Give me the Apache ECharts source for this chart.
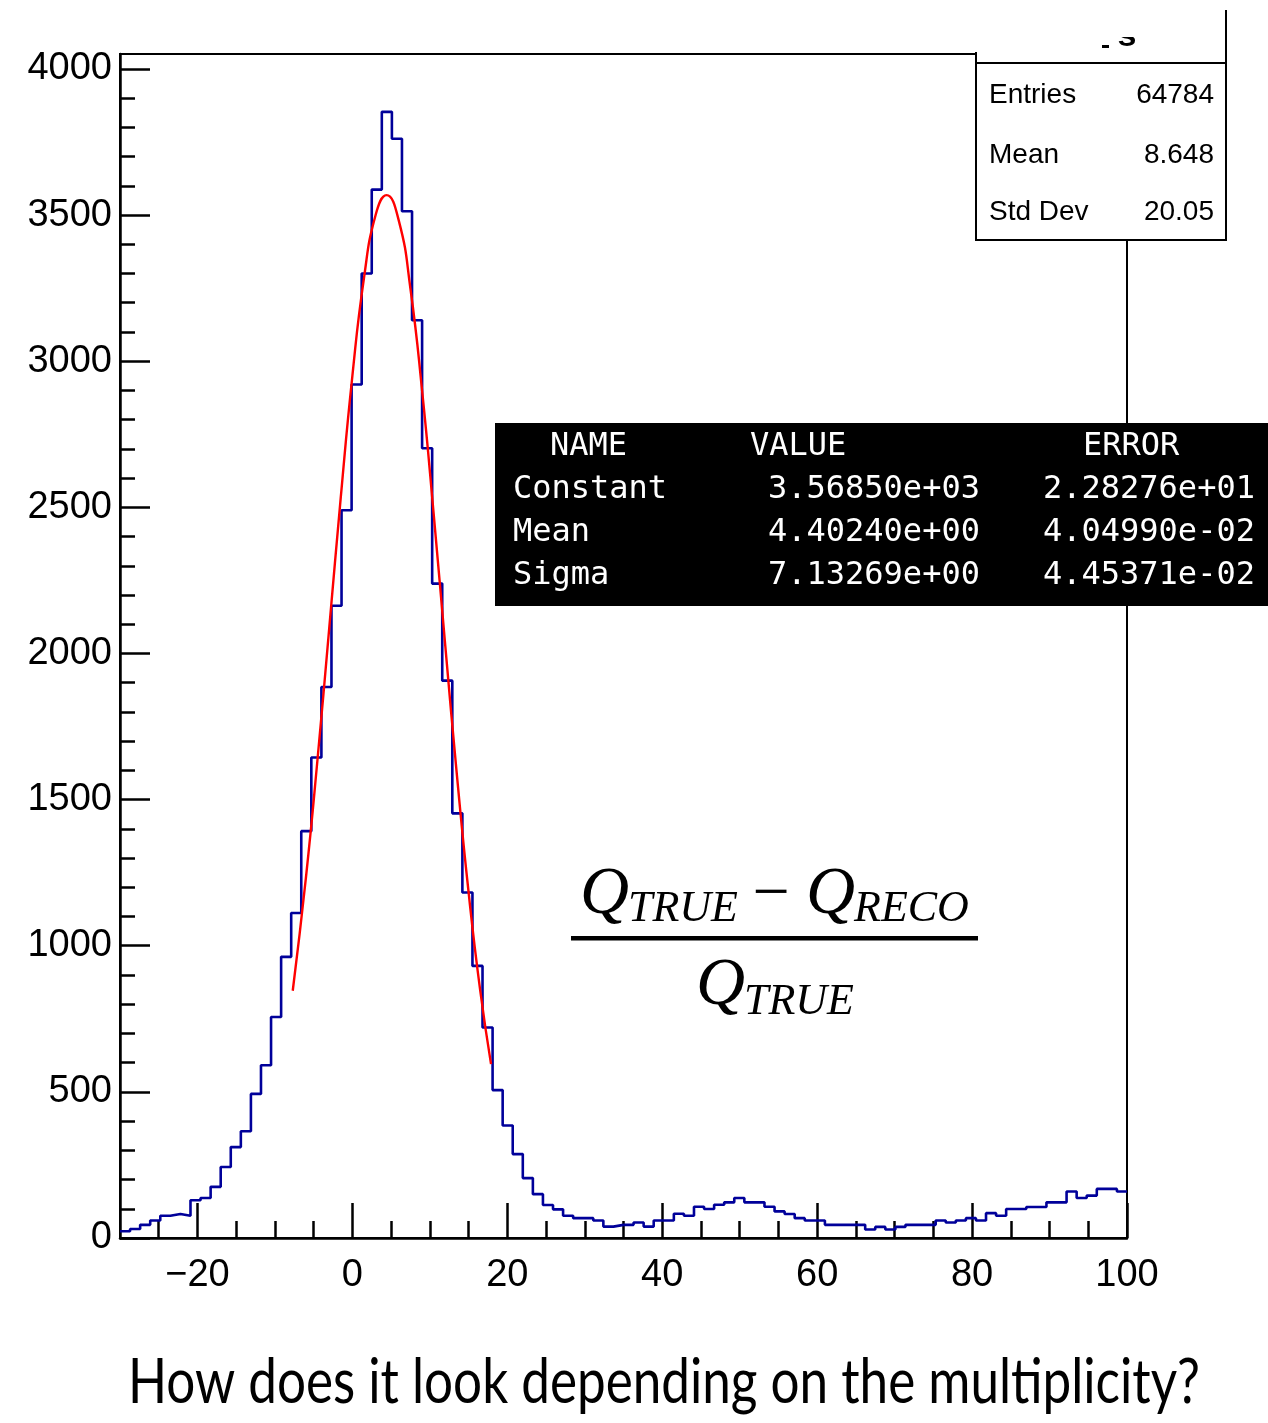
<!DOCTYPE html>
<html><head><meta charset="utf-8">
<script src="https://cdn.jsdelivr.net/npm/echarts@6/dist/echarts.min.js"></script>
<style>html,body{margin:0;padding:0;background:#fff}#c{width:1268px;height:1423px}</style>
</head><body><div id="c"></div>
<script>
// ---- data ----
const binLow = -30, binWidth = 1.3;
const counts = [23,31,45,60,76,82,76,129,137,175,
  243,311,365,493,591,756,962,1112,1392,1644,
  1885,2163,2490,2920,3300,3587,3853,3761,3513,3140,
  2702,2239,1907,1453,1182,931,720,506,385,287,
  205,150,113,98,76,68,68,60,39,45,
  45,53,39,60,60,83,76,107,99,114,
  122,137,122,122,107,91,82,68,60,60,
  45,45,45,45,29,38,29,38,45,45,
  45,60,53,60,68,60,85,76,99,99,
  106,106,122,122,159,137,145,168,168,159];
const fitX = [-7.7,-6,-4.5,-3,-1.5,0,1.5,3,4.4,6,7.5,9,10.5,12,13.5,15,16.5,17.9];
const fitY = [846,1232,1638,2083,2534,2950,3285,3500,3568,3480,3247,2899,2476,2024,1582,1183,847,595];
const xMajorTicks = [-20,0,20,40,60,80,100];
const xMinorTicks = [-25,-15,-10,-5,5,10,15,25,30,35,45,50,55,65,70,75,85,90,95];
const yMajorTicks = [0,500,1000,1500,2000,2500,3000,3500,4000];
const yMinorTicks = [100,200,300,400,600,700,800,900,1100,1200,1300,1400,1600,1700,1800,1900,
  2100,2200,2300,2400,2600,2700,2800,2900,3100,3200,3300,3400,3600,3700,3800,3900];
const statNames = ['Entries','Mean','Std Dev'];
const statValues = ['64784','8.648','20.05'];
const fitHeader = ['NAME','VALUE','ERROR'];
const fitParams = ['Constant','Mean','Sigma'];
const fitValues = ['3.56850e+03','4.40240e+00','7.13269e+00'];
const fitErrors = ['2.28276e+01','4.04990e-02','4.45371e-02'];
const bottomText = 'How does it look depending on the multiplicity?';

// ---- build ----
const histData = counts.map((v,i)=>[binLow + i*binWidth, v]);
histData.push([binLow + counts.length*binWidth, counts[counts.length-1]]);
const fitData = fitX.map((x,i)=>[x, fitY[i]]);

const G = {left:120, top:54, width:1007, height:1184};
const YMAX = 4051;
const sans = '"Liberation Sans", Arial, Helvetica, sans-serif';
const mono = '"DejaVu Sans Mono", monospace';
const serif = '"Liberation Serif", "Times New Roman", serif';

const mc = document.createElement('canvas').getContext('2d');
mc.font = '62px Lato';
const bw = mc.measureText(bottomText).width;
const bsx = 1072 / bw;

function T(x,y,text,opt){
  return Object.assign({type:'text', x:x, y:y, z:110, silent:true,
    style:Object.assign({text:text, fill:'#000', font:'28px '+sans,
      textAlign:'left', align:'left', textVerticalAlign:'middle', verticalAlign:'middle'}, opt||{})});
}
const graphics = [];
// title box remnant
graphics.push({type:'rect', z:100, shape:{x:976,y:0,width:250,height:240}, style:{fill:'#fff'}});
graphics.push(T(1127,37,'s',{font:'bold 34px '+sans, textAlign:'center', align:'center'}));
graphics.push({type:'rect', z:112, shape:{x:1095,y:0,width:70,height:37}, style:{fill:'#fff'}});
graphics.push({type:'rect', z:112, shape:{x:1102,y:45,width:7,height:3}, style:{fill:'#000'}});
graphics.push({type:'polyline', z:113, shape:{points:[[1226,10],[1226,240],[976,240],[976,52]]}, style:{stroke:'#000', lineWidth:2, fill:null}});
graphics.push({type:'line', z:113, shape:{x1:976,y1:63,x2:1226,y2:63}, style:{stroke:'#000', lineWidth:2}});
const statY = [95,155,212];
statNames.forEach((n,i)=>{
  graphics.push(T(989,statY[i],n));
  graphics.push(T(1214,statY[i],statValues[i],{textAlign:'right', align:'right'}));
});
// fit box
graphics.push({type:'rect', z:100, shape:{x:495,y:423,width:773,height:183}, style:{fill:'#000'}});
const hdrX = [550,750,1083];
fitHeader.forEach((h,i)=>graphics.push(T(hdrX[i],447,h,{fill:'#fff', font:'32px '+mono})));
const rowY = [490,533,576];
fitParams.forEach((p,i)=>{
  graphics.push(T(513,rowY[i],p,{fill:'#fff', font:'32px '+mono}));
  graphics.push(T(768,rowY[i],fitValues[i],{fill:'#fff', font:'32px '+mono}));
  graphics.push(T(1043,rowY[i],fitErrors[i],{fill:'#fff', font:'32px '+mono}));
});
// formula
const qF = 'italic 68px '+serif, sF = 'italic 44px '+serif;
graphics.push(T(580,895,'Q',{font:qF}));
graphics.push(T(628,909,'TRUE',{font:sF}));
graphics.push(T(771,896,'\u2212',{font:'66px '+serif, textAlign:'center', align:'center'}));
graphics.push(T(806,895,'Q',{font:qF}));
graphics.push(T(854,909,'RECO',{font:sF}));
graphics.push({type:'rect', z:110, shape:{x:571,y:936,width:407,height:4.5}, style:{fill:'#000'}});
graphics.push(T(696,986,'Q',{font:qF}));
graphics.push(T(744,1002,'TRUE',{font:sF}));
// bottom text
graphics.push({type:'text', x:664, y:1383, scaleX:bsx, z:110, silent:true,
  style:{text:bottomText, fill:'#000', font:'62px Lato', textAlign:'center', align:'center', textVerticalAlign:'middle', verticalAlign:'middle'}});

const axisTxt = {color:'#000', fontSize:38, fontFamily:sans};
const option = {
  backgroundColor:'#fff',
  animation:false,
  grid:Object.assign({show:true, borderColor:'#000', borderWidth:2, backgroundColor:'transparent', containLabel:false, outerBoundsMode:'none'}, G),
  xAxis:[
    {type:'value', position:'bottom', min:-30, max:100, splitLine:{show:false},
     axisLine:{onZero:false, lineStyle:{color:'#000', width:2.5}},
     axisTick:{inside:true, length:35, lineStyle:{color:'#000', width:2.5}, customValues:xMajorTicks},
     axisLabel:Object.assign({margin:19, customValues:xMajorTicks, formatter:v=>String(v).replace('-','\u2212')}, axisTxt)},
    {type:'value', position:'top', offset:-G.height, min:-30, max:100, splitLine:{show:false},
     axisLine:{show:false, onZero:false},
     axisTick:{inside:false, length:17, lineStyle:{color:'#000', width:2.5}, customValues:xMinorTicks},
     axisLabel:{show:false}}
  ],
  yAxis:[
    {type:'value', position:'left', min:0, max:YMAX, splitLine:{show:false},
     axisLine:{onZero:false, lineStyle:{color:'#000', width:2.5}},
     axisTick:{inside:true, length:30, lineStyle:{color:'#000', width:2.5}, customValues:yMajorTicks},
     axisLabel:Object.assign({margin:8, customValues:yMajorTicks, formatter:v=>String(v)}, axisTxt)},
    {type:'value', position:'right', offset:-G.width, min:0, max:YMAX, splitLine:{show:false},
     axisLine:{show:false, onZero:false},
     axisTick:{inside:false, length:15, lineStyle:{color:'#000', width:2.5}, customValues:yMinorTicks},
     axisLabel:{show:false}}
  ],
  series:[
    {type:'line', xAxisIndex:0, yAxisIndex:0, step:'end', data:histData, symbol:'none',
     lineStyle:{color:'#00009a', width:2.6}, z:3},
    {type:'line', xAxisIndex:0, yAxisIndex:0, data:fitData, smooth:true, symbol:'none',
     lineStyle:{color:'#ff0000', width:2.4}, z:4}
  ],
  graphic:{elements:graphics}
};
const chart = echarts.init(document.getElementById('c'), null, {renderer:'canvas'});
chart.setOption(option);
</script>
</body></html>
